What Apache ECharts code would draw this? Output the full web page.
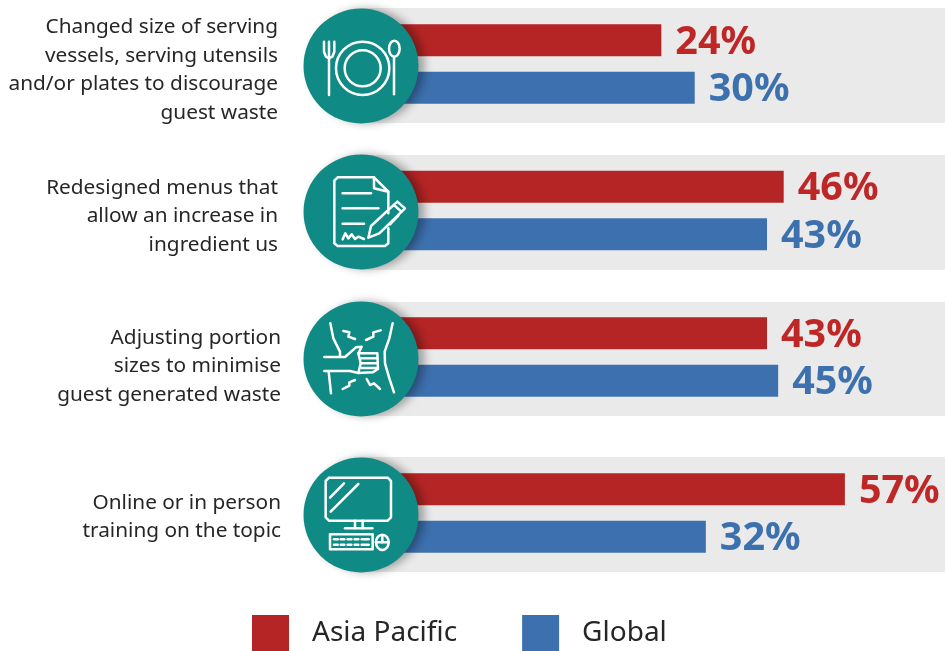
<!DOCTYPE html>
<html>
<head>
<meta charset="utf-8">
<style>html,body{margin:0;padding:0;background:#fff;overflow:hidden}#c{width:945px;height:651px}</style>
<script src="https://cdn.jsdelivr.net/npm/echarts@6/dist/echarts.min.js"></script>
</head>
<body>
<div id="c"></div>
<script>
// Food-waste measures, share of respondents (%)
const categories = [
  'Changed size of serving\nvessels, serving utensils\nand/or plates to discourage\nguest waste',
  'Redesigned menus that\nallow an increase in\ningredient us',
  'Adjusting portion\nsizes to minimise\nguest generated waste',
  'Online or in person\ntraining on the topic'
];
const seriesNames = ['Asia Pacific', 'Global'];
const asiaPacific = [24, 46, 43, 57];
const globalShare = [30, 43, 45, 32];

const RED = '#B52525', BLUE = '#3C70AE', TEAL = '#0F8A85', BAND = '#EAEAEA';

// Vertical layout of the four rows
const rows = [
  { top: 16.5, bandTop: 8, bandH: 115, cy: 66, labelY: 70, labelX: 278, iconY: 0 },
  { top: 163, bandTop: 155, bandH: 115, cy: 212, labelY: 216.5, labelX: 278, iconY: 145 },
  { top: 309.5, bandTop: 302, bandH: 114, cy: 359, labelY: 366.5, labelX: 281, iconY: 295 },
  { top: 465.5, bandTop: 457, bandH: 115, cy: 515, labelY: 517, labelX: 281, iconY: 450 }
];

// Line-art icons, drawn in a 3x unit space relative to each row's icon origin
const icons = [
  { // cutlery and plate
    lines: [
      [[102,125],[102,155],[108,170],[117,175],[127,170],[133,155],[133,125]],
      [[117,125],[117,285]],
      [[312,172],[312,283]]
    ],
    circles: [[218,205,80],[218,205,54]],
    ellipses: [[313,146,16,24]]
  },
  { // contract and pen
    lines: [
      [[295,205],[295,140],[252,97],[143,97],[133,107],[133,295],[143,303],[285,303],[295,295],[295,250]],
      [[252,97],[252,130],[295,140]],
      [[158,145],[243,145]],
      [[158,190],[265,190]],
      [[158,236],[222,236]],
      [[158,283],[166,265],[175,280],[185,268],[195,282],[205,275],[222,282]],
      [[235,278],[243,243],[322,170],[345,190],[268,265],[235,278]],
      [[312,180],[334,200]],
      [[300,238],[325,212]]
    ],
    circles: [],
    ellipses: []
  },
  { // hand on stomach with pain marks
    lines: [
      [[121,85],[130,130],[150,170],[150,185]],
      [[116,230],[123,295]],
      [[308,85],[298,130],[284,170],[285,205],[298,250],[312,292]],
      [[103,186],[165,186],[198,157],[215,155],[205,175],[262,175],[264,222],[248,232],[205,234],[180,228],[103,228]],
      [[215,190],[262,190]],
      [[215,205],[262,205]],
      [[215,219],[260,219]],
      [[205,175],[212,205],[205,234]],
      [[160,108],[178,112],[175,125],[195,132]],
      [[272,106],[250,112],[250,125],[228,135]],
      [[195,255],[178,262],[178,272],[158,282]],
      [[230,252],[240,270],[252,265],[270,282]]
    ],
    circles: [],
    ellipses: []
  },
  { // desktop computer
    lines: [
      [[117,83],[293,83],[303,93],[303,202],[293,212],[117,212],[107,202],[107,93],[117,83]],
      [[120,143],[162,100]],
      [[122,185],[205,102]],
      [[195,212],[195,235]],
      [[218,212],[218,235]],
      [[165,235],[247,235]],
      [[120,253],[248,253],[248,298],[120,298],[120,253]],
      [[132,268],[143,268]],[[152,268],[163,268]],[[173,268],[184,268]],[[194,268],[205,268]],[[215,268],[236,268]],
      [[132,284],[143,284]],[[152,284],[163,284]],[[173,284],[184,284]],[[194,284],[205,284]],[[215,284],[236,284]],
      [[258,277],[296,277]],
      [[277,256],[277,277]]
    ],
    circles: [],
    ellipses: [[277,277,19,23]]
  }
];

const ICON_X = 290;
const whiteStroke = { stroke: '#fff', fill: 'none', lineWidth: 2.5, lineCap: 'round', lineJoin: 'round' };

function iconElements(icon, originY) {
  const px = x => ICON_X + x / 3;
  const py = y => originY + y / 3;
  const els = [];
  icon.lines.forEach(pts => els.push({
    type: 'polyline', z: 11,
    shape: { points: pts.map(p => [px(p[0]), py(p[1])]) },
    style: whiteStroke
  }));
  icon.circles.forEach(c => els.push({
    type: 'circle', z: 11,
    shape: { cx: px(c[0]), cy: py(c[1]), r: c[2] / 3 },
    style: whiteStroke
  }));
  icon.ellipses.forEach(e => els.push({
    type: 'ellipse', z: 11,
    shape: { cx: px(e[0]), cy: py(e[1]), rx: e[2] / 3, ry: e[3] / 3 },
    style: whiteStroke
  }));
  return els;
}

const graphicElements = [];
rows.forEach((r, i) => {
  graphicElements.push({
    type: 'rect', z: 0,
    shape: { x: 361, y: r.bandTop, width: 584, height: r.bandH },
    style: { fill: BAND }
  });
  graphicElements.push({
    type: 'circle', z: 10,
    shape: { cx: 361, cy: r.cy, r: 57.5 },
    style: { fill: TEAL, shadowColor: 'rgba(0,0,0,0.32)', shadowBlur: 9, shadowOffsetX: 6, shadowOffsetY: 0 }
  });
  graphicElements.push(...iconElements(icons[i], r.iconY));
  graphicElements.push({
    type: 'text', z: 11,
    style: {
      text: categories[i], x: r.labelX, y: r.labelY,
      align: 'right', verticalAlign: 'middle',
      font: '400 20.8px "Noto Sans"', lineHeight: 28.7, fill: '#262626'
    }
  });
});

const AXIS_MIN = -30, AXIS_MAX = 75;
const BAR_HEIGHT = 32, LABEL_GAP = 14;
const grids = rows.map(r => ({ left: 361, right: 0, top: r.top, height: 95 }));
const xAxes = rows.map((r, i) => ({ gridIndex: i, type: 'value', min: AXIS_MIN, max: AXIS_MAX, show: false }));
const yAxes = rows.map((r, i) => ({ gridIndex: i, type: 'category', data: seriesNames, inverse: true, show: false }));

// Bars run from the left edge of the plot to the scaled value; the left end sits under the round badge
function barRenderer(color, textColor) {
  return (params, api) => {
    const end = api.coord([api.value(0), api.value(1)]);
    const x0 = params.coordSys.x;
    return {
      type: 'group',
      children: [
        {
          type: 'rect',
          shape: { x: x0, y: end[1] - BAR_HEIGHT / 2, width: end[0] - x0, height: BAR_HEIGHT },
          style: { fill: color }
        },
        {
          type: 'text',
          style: {
            text: api.value(0) + '%', x: end[0] + LABEL_GAP, y: end[1] + 2,
            align: 'left', verticalAlign: 'middle',
            font: '700 39.5px "Noto Sans"', fill: textColor
          }
        }
      ]
    };
  };
}

function barSeries(name, color, textColor, i, slot, value) {
  return {
    type: 'custom', name, coordinateSystem: 'cartesian2d', xAxisIndex: i, yAxisIndex: i,
    data: [[value, slot]], encode: { x: 0, y: 1 },
    itemStyle: { color }, z: 3, clip: false,
    renderItem: barRenderer(color, textColor)
  };
}

const series = [];
rows.forEach((r, i) => {
  series.push(barSeries(seriesNames[0], RED, '#BF2626', i, 0, asiaPacific[i]));
  series.push(barSeries(seriesNames[1], BLUE, BLUE, i, 1, globalShare[i]));
});

echarts.init(document.getElementById('c'), null, { renderer: 'canvas' }).setOption({
  animation: false,
  backgroundColor: '#fff',
  grid: grids,
  xAxis: xAxes,
  yAxis: yAxes,
  series,
  graphic: { elements: graphicElements },
  legend: {
    data: seriesNames, left: 252, top: 615, selectedMode: false,
    icon: 'rect', itemWidth: 37, itemHeight: 37, itemGap: 65, padding: 0,
    textStyle: {
      fontFamily: 'Noto Sans', fontSize: 28, color: '#262626',
      padding: [0, 0, 6, 18]
    }
  }
});
</script>
</body>
</html>
